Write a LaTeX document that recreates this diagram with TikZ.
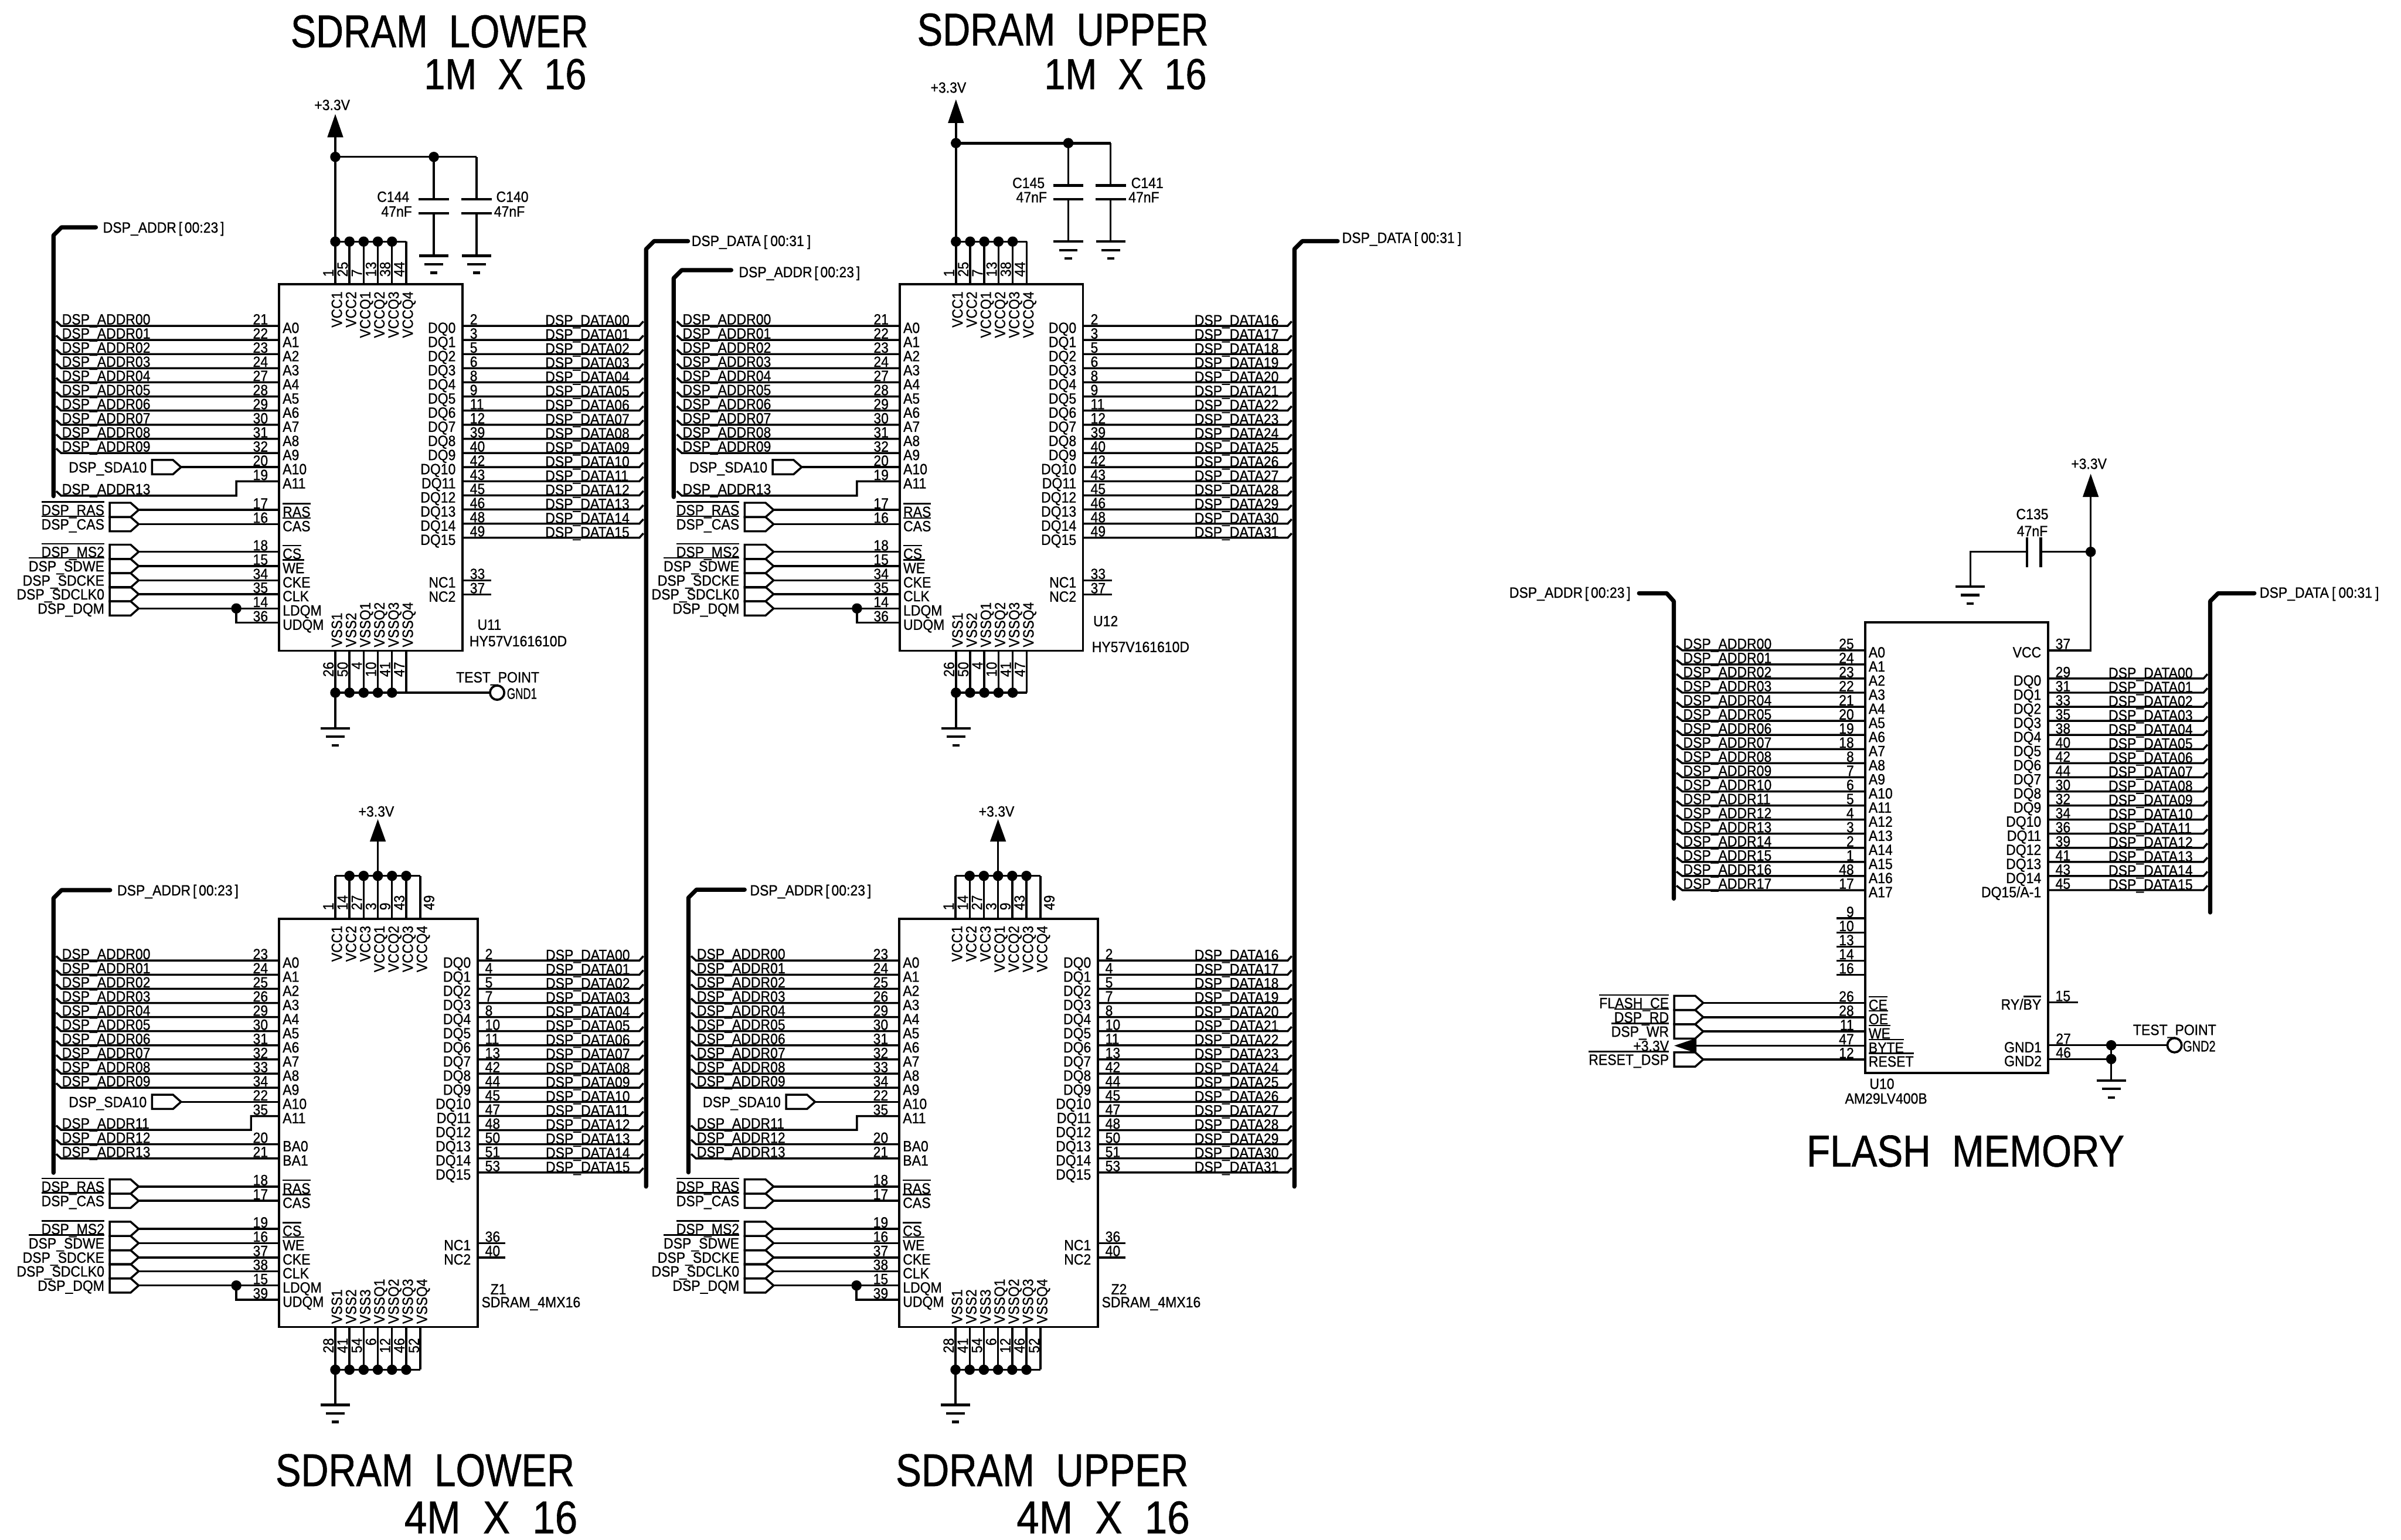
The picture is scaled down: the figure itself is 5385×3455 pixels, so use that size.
\documentclass[tikz,border=0pt]{standalone}
\usepackage{fontspec}
\setmainfont[FakeStretch=0.905,FakeBold=0.8]{Liberation Sans}
\newcount\tc
\newbox\obbox
\newcommand\lf{\fontsize{9.5pt}{11pt}\selectfont}
\newcommand\ob[1]{\setbox\obbox=\hbox{#1}\leavevmode\rlap{\raisebox{1.22\ht\obbox}{\rule{\wd\obbox}{0.9pt}}}\box\obbox}
\newcommand\addrbus{DSP\_ADDR\kern1.4pt[\kern1.4pt00:23\kern1.4pt]}
\newcommand\databus{DSP\_DATA\kern1.9pt[\kern1.9pt00:31\kern1.9pt]}
\tikzset{
  wire/.style={line width=1.3pt,line cap=butt,line join=miter},
  busw/.style={line width=2.7pt,line cap=round,line join=round},
  plate/.style={line width=1.6pt},
  lab/.style={inner sep=0pt,outer sep=0pt,font=\lf,text=black},
  bw/.style={anchor=base west},
  be/.style={anchor=base east},
  bc/.style={anchor=base},
  rbw/.style={rotate=90,anchor=base west},
  rbe/.style={rotate=90,anchor=base east},
  dotj/.style={circle,fill=black,inner sep=0pt,outer sep=0pt,minimum size=0.23cm},
  chipbox/.style={draw=black,line width=1.4pt,inner sep=0pt,outer sep=0pt,anchor=north west},
  tpt/.style={circle,draw=black,line width=1.4pt,fill=white,inner sep=0pt,outer sep=0pt,minimum size=0.32cm}
}
\newcommand\T[4]{\global\advance\tc by 1 \node[lab,#1] (t\the\tc) at ({#2},{#3}) {#4};}
\newcommand\J[2]{\global\advance\tc by 1 \node[dotj] (j\the\tc) at ({#1},{#2}) {};}
\newcommand\Chip[5]{\pgfmathsetmacro\wW{(#4-#2)*0.01}\pgfmathsetmacro\hH{(#5-#3)*0.01}
  \node[chipbox,minimum width=\wW cm,minimum height=\hH cm] (#1) at ({#2},{#3}) {};}
\newcommand\Aline[5]{\coordinate (ps) at ({#1+6},{#4-10});\coordinate (pe) at ({#3},{#4});
  \draw[wire] (ps) -- ({#2-2},{#4}) -- (pe);
  \T{bw}{#2}{#4-3}{#5}}
\newcommand\Dline[5]{\coordinate (ps) at ({#1},{#4});\coordinate (pe) at ({#3-6},{#4-10});
  \draw[wire] (ps) -- ({#3-15},{#4}) -- (pe);
  \T{bw}{#2}{#4-1}{#5}}
\newcommand\Lp[4]{\T{be}{#1-25}{#2-3}{#3}\T{bw}{#1+8}{#2+16}{#4}}
\newcommand\Rp[4]{\T{bw}{#1+17}{#2-3}{#3}\T{be}{#1-15}{#2+16}{#4}}
\newcommand\Flagshape[2]{\draw[wire] ({#1},{#2-16}) -- ({#1+47},{#2-16}) -- ({#1+65},{#2}) -- ({#1+47},{#2+16}) -- ({#1},{#2+16}) -- cycle;}
\newcommand\Frow[6]{\Flagshape{#1}{#3}
  \coordinate (ps) at ({#1+65},{#3});\coordinate (pe) at ({#2},{#3});
  \draw[wire] (ps) -- (pe);
  \T{be}{#1-12}{#3+12}{#4}\Lp{#2}{#3}{#5}{#6}}
\newcommand\Gnd[2]{\draw[plate] ({#1-33},{#2}) -- ({#1+33},{#2});
  \draw[plate] ({#1-21},{#2+19}) -- ({#1+21},{#2+19});
  \draw[plate] ({#1-8},{#2+38}) -- ({#1+8},{#2+38});}
\newcommand\Pwr[3]{\fill ({#1},{#2}) -- ({#1+18},{#3}) -- ({#1-18},{#3}) -- cycle;}
\newcommand\Bus[5]{\draw[busw] ({#1},{#3}) -- ({#1},{#2+18}) -- ({#1+#5},{#2}) -- ({#4},{#2});}
\newcommand\Cap[6]{\draw[wire] ({#1},{#2}) -- ({#1},{#3});
  \draw[plate] ({#1-34},{#3}) -- ({#1+34},{#3});
  \draw[plate] ({#1-34},{#4}) -- ({#1+34},{#4});
  \draw[wire] ({#1},{#4}) -- ({#1},{#5});
  \Gnd{#1}{#5}}
\newcommand\TopPins[6]{\foreach \kK/\nN/\lL/\dD in {#6}{\pgfmathsetmacro\pX{#1+31.8*\kK}
  \coordinate (ps) at ({\pX},{#3});\coordinate (pe) at ({\pX},{#2});\draw[wire] (ps) -- (pe);
  \T{rbw}{\pX+\dD}{#4}{\nN}\T{rbe}{\pX+15}{#5}{\lL}}}
\newcommand\BotPins[6]{\foreach \kK/\nN/\lL/\dD in {#6}{\pgfmathsetmacro\pX{#1+31.8*\kK}
  \coordinate (ps) at ({\pX},{#2});\coordinate (pe) at ({\pX},{#3});\draw[wire] (ps) -- (pe);
  \T{rbe}{\pX+\dD}{#4}{\nN}\T{rbw}{\pX+15}{#5}{\lL}}}
% ---------- 1M x 16 chip: #1 name #2 x offset #3 flag x #4 data label x #5 data bus x #6 first data bit #7 refdes
\newcommand\UChip[7]{\pgfmathsetmacro\cX{626+#2}\pgfmathsetmacro\rX{1037+#2}\pgfmathsetmacro\bX{120+#2}\pgfmathsetmacro\lX{139+#2}
  \Chip{#1}{\cX}{638}{\rX}{1460}
  \foreach \nN [count=\i from 0] in {21,22,23,24,27,28,29,30,31,32}{\pgfmathsetmacro\yY{731+31.7*\i}
    \Aline{\bX}{\lX}{\cX}{\yY}{DSP\_ADDR0\i}\Lp{\cX}{\yY}{\nN}{A\i}}
  \pgfmathsetmacro\sX{341+#2}
  \Frow{\sX}{\cX}{1048}{DSP\_SDA10}{20}{A10}
  \pgfmathsetmacro\jX{530+#2}
  \coordinate (ps) at ({\bX+6},1102);\coordinate (pe) at ({\cX},1080);
  \draw[wire] (ps) -- ({\lX-2},1112) -- ({\jX},1112) -- ({\jX},1080) -- (pe);
  \T{bw}{\lX}{1109}{DSP\_ADDR13}\Lp{\cX}{1080}{19}{A11}
  \Frow{#3}{\cX}{1144}{\ob{DSP\_RAS}}{17}{\ob{RAS}}
  \Frow{#3}{\cX}{1176}{\ob{DSP\_CAS}}{16}{\ob{CAS}}
  \Frow{#3}{\cX}{1238}{\ob{DSP\_MS2}}{18}{\ob{CS}}
  \Frow{#3}{\cX}{1270}{\ob{DSP\_SDWE}}{15}{\ob{WE}}
  \Frow{#3}{\cX}{1302}{DSP\_SDCKE}{34}{CKE}
  \Frow{#3}{\cX}{1333}{DSP\_SDCLK0}{35}{CLK}
  \Frow{#3}{\cX}{1365}{DSP\_DQM}{14}{LDQM}
  \J{\jX}{1365}
  \draw[wire] ({\jX},1365) -- ({\jX},1397) -- ({\cX},1397);
  \Lp{\cX}{1397}{36}{UDQM}
  \foreach \nN [count=\i from 0] in {2,3,5,6,8,9,11,12,39,40,42,43,45,46,48,49}{\pgfmathsetmacro\yY{731+31.7*\i}\pgfmathtruncatemacro\dI{#6+\i}
    \Dline{\rX}{#4}{#5}{\yY}{DSP\_DATA\ifnum\dI<10 0\fi\dI}\Rp{\rX}{\yY}{\nN}{DQ\i}}
  \draw[wire] ({\rX},1302) -- ({\rX+65},1302);\Rp{\rX}{1302}{33}{NC1}
  \draw[wire] ({\rX},1334) -- ({\rX+65},1334);\Rp{\rX}{1334}{37}{NC2}
  \pgfmathsetmacro\pO{752+#2}
  \TopPins{\pO}{638}{542}{621}{654}{0/1/VCC1/-4,1/25/VCC2/-4,2/7/VCCQ1/-4,3/13/VCCQ2/-4,4/38/VCCQ3/-4,5/44/VCCQ4/-4}
  \draw[wire] ({\pO},542) -- ({\pO+159},542);
  \foreach \kK in {0,...,4}{\J{\pO+31.8*\kK}{542}}
  \BotPins{\pO}{1460}{1554}{1485}{1452}{0/26/VSS1/-4,1/50/VSS2/-4,2/4/VSSQ1/-4,3/10/VSSQ2/-4,4/41/VSSQ3/-4,5/47/VSSQ4/-4}
  \draw[wire] ({\pO},1554) -- ({\pO+159},1554);
  \foreach \kK in {0,...,4}{\J{\pO+31.8*\kK}{1554}}
  \draw[wire] ({\pO},1554) -- ({\pO},1634);\Gnd{\pO}{1634}
}
% ---------- 4M x 16 chip: #1 name #2 x offset #3 addr bus x #4 sda flag x #5 jog x #6 flag x #7 data label x #8 data bus x #9 first data bit
\newcommand\ZChip[9]{\pgfmathsetmacro\cX{626+#2}\pgfmathsetmacro\rX{1071+#2}\pgfmathsetmacro\lX{#3+19}
  \Chip{#1}{\cX}{2061}{\rX}{2977}
  \foreach \nN [count=\i from 0] in {23,24,25,26,29,30,31,32,33,34}{\pgfmathsetmacro\yY{2155+31.7*\i}
    \Aline{#3}{\lX}{\cX}{\yY}{DSP\_ADDR0\i}\Lp{\cX}{\yY}{\nN}{A\i}}
  \Frow{#4}{\cX}{2472}{DSP\_SDA10}{22}{A10}
  \coordinate (ps) at ({#3+6},2525);\coordinate (pe) at ({\cX},2504);
  \draw[wire] (ps) -- ({\lX-2},2535) -- ({#5},2535) -- ({#5},2504) -- (pe);
  \T{bw}{\lX}{2532}{DSP\_ADDR11}\Lp{\cX}{2504}{35}{A11}
  \Aline{#3}{\lX}{\cX}{2567}{DSP\_ADDR12}\Lp{\cX}{2567}{20}{BA0}
  \Aline{#3}{\lX}{\cX}{2599}{DSP\_ADDR13}\Lp{\cX}{2599}{21}{BA1}
  \Frow{#6}{\cX}{2662}{\ob{DSP\_RAS}}{18}{\ob{RAS}}
  \Frow{#6}{\cX}{2694}{\ob{DSP\_CAS}}{17}{\ob{CAS}}
  \Frow{#6}{\cX}{2757}{\ob{DSP\_MS2}}{19}{\ob{CS}}
  \Frow{#6}{\cX}{2789}{\ob{DSP\_SDWE}}{16}{\ob{WE}}
  \Frow{#6}{\cX}{2821}{DSP\_SDCKE}{37}{CKE}
  \Frow{#6}{\cX}{2852}{DSP\_SDCLK0}{38}{CLK}
  \Frow{#6}{\cX}{2884}{DSP\_DQM}{15}{LDQM}
  \pgfmathsetmacro\jX{530+#2}
  \J{\jX}{2884}
  \draw[wire] ({\jX},2884) -- ({\jX},2916) -- ({\cX},2916);
  \Lp{\cX}{2916}{39}{UDQM}
  \foreach \nN [count=\i from 0] in {2,4,5,7,8,10,11,13,42,44,45,47,48,50,51,53}{\pgfmathsetmacro\yY{2155+31.7*\i}\pgfmathtruncatemacro\dI{#9+\i}
    \Dline{\rX}{#7}{#8}{\yY}{DSP\_DATA\ifnum\dI<10 0\fi\dI}\Rp{\rX}{\yY}{\nN}{DQ\i}}
  \draw[wire] ({\rX},2789) -- ({\rX+62},2789);\Rp{\rX}{2789}{36}{NC1}
  \draw[wire] ({\rX},2821) -- ({\rX+62},2821);\Rp{\rX}{2821}{40}{NC2}
  \pgfmathsetmacro\pO{752+#2}
  \TopPins{\pO}{2061}{1965}{2042}{2077}{0/1/VCC1/-4,1/14/VCC2/-4,2/27/VCC3/-4,3/3/VCCQ1/-4,4/9/VCCQ2/-4,5/43/VCCQ3/-4,6/49/VCCQ4/31}
  \draw[wire] ({\pO},1965) -- ({\pO+190.8},1965);
  \foreach \kK in {1,...,5}{\J{\pO+31.8*\kK}{1965}}
  \draw[wire] ({\pO+95.4},1965) -- ({\pO+95.4},1888);
  \Pwr{\pO+95.4}{1838}{1888}
  \T{bc}{\pO+92}{1832}{+3.3V}
  \BotPins{\pO}{2977}{3073}{3002}{2970}{0/28/VSS1/-4,1/41/VSS2/-4,2/54/VSS3/-4,3/6/VSSQ1/-4,4/12/VSSQ2/-4,5/46/VSSQ3/-4,6/52/VSSQ4/-3}
  \draw[wire] ({\pO},3073) -- ({\pO+190.8},3073);
  \foreach \kK in {0,...,5}{\J{\pO+31.8*\kK}{3073}}
  \draw[wire] ({\pO},3073) -- ({\pO},3152);\Gnd{\pO}{3152}
}
\begin{document}
\begin{tikzpicture}[x=0.01cm,y=-0.01cm]
\useasboundingbox (0,0) rectangle (5385,3455);
\fill[white] (0,0) rectangle (5385,3455);
% titles
\T{anchor=north west}{652}{34}{\resizebox{6.67cm}{0.72cm}{SDRAM\ \ LOWER}}
\T{anchor=north west}{951}{132}{\resizebox{3.64cm}{0.68cm}{1M\ \ X\ \ 16}}
\T{anchor=north west}{2057}{30}{\resizebox{6.53cm}{0.72cm}{SDRAM\ \ UPPER}}
\T{anchor=north west}{2342}{132}{\resizebox{3.64cm}{0.68cm}{1M\ \ X\ \ 16}}
\T{anchor=north west}{618}{3262}{\resizebox{6.70cm}{0.72cm}{SDRAM\ \ LOWER}}
\T{anchor=north west}{907}{3368}{\resizebox{3.88cm}{0.72cm}{4M\ \ X\ \ 16}}
\T{anchor=north west}{2009}{3262}{\resizebox{6.56cm}{0.72cm}{SDRAM\ \ UPPER}}
\T{anchor=north west}{2280}{3368}{\resizebox{3.88cm}{0.72cm}{4M\ \ X\ \ 16}}
\T{anchor=north west}{4052}{2547}{\resizebox{7.12cm}{0.70cm}{FLASH\ \ MEMORY}}
% buses, left group
\Bus{120}{510}{1113}{215}{18}\T{bw}{231}{522}{\addrbus}
\Bus{1449}{541}{2662}{1543}{18}\T{bw}{1551}{552}{\databus}
\Bus{1511}{606}{1115}{1640}{18}\T{bw}{1657}{622}{\addrbus}
\Bus{2903}{541}{2662}{3000}{18}\T{bw}{3010}{545}{\databus}
\Bus{120}{1997}{2631}{247}{18}\T{bw}{263}{2009}{\addrbus}
\Bus{1544}{1996}{2630}{1670}{18}\T{bw}{1682}{2009}{\addrbus}
% chips
\UChip{u11}{0}{246}{1223}{1449}{0}{U11}
\UChip{u12}{1392}{1670}{2679}{2903}{16}{U12}
\ZChip{z1}{0}{120}{341}{563}{246}{1224}{1449}{0}
\ZChip{z2}{1391}{1544}{1763}{1922}{1670}{2679}{2903}{16}
% U11 top
\draw[wire] (752,308) -- (752,542);
\Pwr{752}{256}{308}
\T{bc}{745}{247}{+3.3V}
\draw[wire] (752,352) -- (1069,352);
\J{752}{352}\J{973}{352}
\Cap{973}{352}{447}{479}{574}{}
\Cap{1069}{352}{447}{479}{574}{}
\T{be}{918}{453}{C144}\T{be}{924}{486}{47nF}
\T{bw}{1113}{453}{C140}\T{bw}{1108}{486}{47nF}
\T{bw}{1071}{1413}{U11}\T{bw}{1053}{1450}{HY57V161610D}
\T{bw}{1023}{1531}{TEST\_POINT}
\node[tpt] (tp1) at (1115,1554) {};
\draw[wire] (911,1554) -- (tp1);
\T{bw}{1137}{1568}{\resizebox{0.67cm}{0.24cm}{GND1}}
% U12 top
\draw[wire] (2144,276) -- (2144,542);
\Pwr{2144}{223}{276}
\T{bc}{2127}{208}{+3.3V}
\draw[line width=1.8pt] (2144,321) -- (2491,321);
\J{2144}{321}\J{2396}{321}
\Cap{2396}{321}{416}{447}{542}{}
\Cap{2491}{321}{416}{447}{542}{}
\T{be}{2343}{422}{C145}\T{be}{2348}{454}{47nF}
\T{bw}{2537}{422}{C141}\T{bw}{2531}{454}{47nF}
\T{bw}{2452}{1405}{U12}\T{bw}{2449}{1463}{HY57V161610D}
% Z labels
\T{bw}{1100}{2904}{Z1}\T{bw}{1080}{2933}{SDRAM\_4MX16}
\T{bw}{2492}{2904}{Z2}\T{bw}{2471}{2933}{SDRAM\_4MX16}
% flash
\Chip{u10}{4183}{1396}{4593}{2407}
\Bus{3754}{1331}{2016}{3676}{-16}\T{be}{3657}{1341}{\addrbus}
\Bus{4957}{1331}{2047}{5056}{18}\T{bw}{5068}{1341}{\databus}
\foreach \nN [count=\j from 0] in {25,24,23,22,21,20,19,18,8,7,6,5,4,3,2,1,48,17}{\pgfmathsetmacro\yY{1459+31.65*\j}
  \Aline{3754}{3775}{4183}{\yY}{DSP\_ADDR\ifnum\j<10 0\fi\j}\Lp{4183}{\yY}{\nN}{A\j}}
\foreach \nN [count=\j from 0] in {29,31,33,35,38,40,42,44,30,32,34,36,39,41,43}{\pgfmathsetmacro\yY{1522.3+31.65*\j}
  \Dline{4593}{4729}{4957}{\yY}{DSP\_DATA\ifnum\j<10 0\fi\j}\Rp{4593}{\yY}{\nN}{DQ\j}}
\Dline{4593}{4729}{4957}{1997}{DSP\_DATA15}\Rp{4593}{1997}{45}{DQ15/A-1}
\foreach \nN/\rR in {9/19,10/20,13/21,14/22,16/23}{\pgfmathsetmacro\yY{1459+31.65*\rR}
  \draw[wire] (4119,\yY) -- (4183,\yY);\T{be}{4158}{\yY-3}{\nN}}
\Frow{3755}{4183}{2250}{\ob{FLASH\_CE}}{26}{\ob{CE}}
\Frow{3755}{4183}{2282}{\ob{DSP\_RD}}{28}{\ob{OE}}
\Frow{3755}{4183}{2314}{\ob{DSP\_WR}}{11}{\ob{WE}}
\fill (3755,2346) -- (3805,2329) -- (3805,2363) -- cycle;
\draw[wire] (3805,2346) -- (4183,2346);
\T{be}{3743}{2358}{+3.3V}\Lp{4183}{2346}{47}{\ob{BYTE}}
\Frow{3755}{4183}{2377}{\ob{RESET\_DSP}}{12}{\ob{RESET}}
\draw[wire] (4593,1459) -- (4689,1459) -- (4689,1115);
\Pwr{4689}{1063}{1115}
\T{bc}{4685}{1052}{+3.3V}
\Rp{4593}{1459}{37}{VCC}
\J{4689}{1238}
\draw[wire] (4689,1238) -- (4577,1238);
\draw[plate] (4577,1205) -- (4577,1272);
\draw[plate] (4546,1205) -- (4546,1272);
\draw[wire] (4546,1238) -- (4419,1238) -- (4419,1316);
\Gnd{4419}{1316}
\T{bc}{4558}{1165}{C135}\T{bc}{4558}{1203}{47nF}
\draw[wire] (4593,2249) -- (4660,2249);\Rp{4593}{2249}{15}{RY/\ob{BY}}
\draw[wire] (4593,2345) -- (4859,2345);
\draw[wire] (4593,2376) -- (4735,2376);
\T{bw}{4611}{2342}{27}\T{bw}{4611}{2373}{46}
\T{be}{4579}{2361}{GND1}\T{be}{4579}{2392}{GND2}
\J{4735}{2345}\J{4735}{2376}
\draw[wire] (4735,2345) -- (4735,2424);
\Gnd{4735}{2424}
\node[tpt] (tp2) at (4877,2345) {};
\T{bw}{4784}{2322}{TEST\_POINT}
\T{bw}{4896}{2359}{\resizebox{0.73cm}{0.24cm}{GND2}}
\T{bw}{4193}{2443}{U10}\T{bw}{4138}{2476}{AM29LV400B}
\end{tikzpicture}
\end{document}
